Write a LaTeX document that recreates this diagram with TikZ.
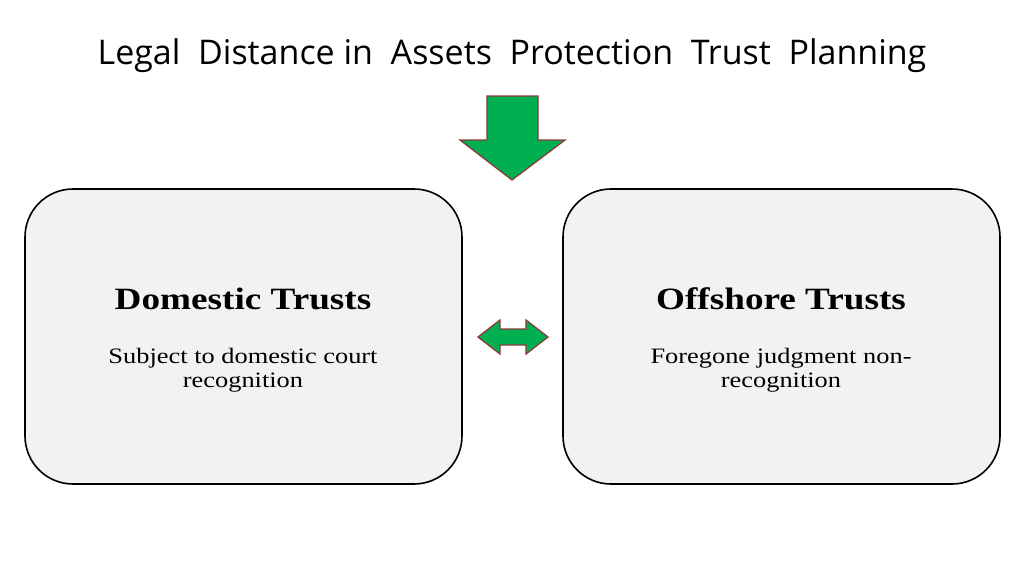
\documentclass[tikz,border=0pt]{standalone}
\usepackage{fontspec}
\setmainfont{Liberation Serif}[FakeStretch=1.2]
\newfontfamily\titlefont{Open Sans}
\begin{document}
\begin{tikzpicture}[x=1pt,y=-1pt,
  box/.style={draw=black,line width=1.6pt,fill=boxgray,rounded corners=48pt},
  arr/.style={draw=arrred,line width=1.3pt,fill=arrgreen,line join=miter},
  head/.style={font=\bfseries\fontsize{31}{34}\selectfont},
  body/.style={font=\fontsize{22}{24}\selectfont,align=center}]
\definecolor{boxgray}{HTML}{F2F2F2}
\definecolor{arrgreen}{HTML}{00B050}
\definecolor{arrred}{HTML}{8B3A3A}
\useasboundingbox (0,0) rectangle (1024,576);
\node[font=\titlefont\fontsize{34}{40}\selectfont] (title) at (512,56) {Legal\ \ Distance in\ \ Assets\ \ Protection\ \ Trust\ \ Planning};
\draw[arr] (487,96) -- (538,96) -- (538,140) -- (565,140) -- (512,180) -- (460,140) -- (487,140) -- cycle;
\draw[box] (25,189) rectangle (462,484);
\draw[box] (563,189) rectangle (1000,484);
\node[head] (dt) at (243,299) {Domestic Trusts};
\node[body] (ds) at (243,370) {Subject to domestic court\\recognition};
\node[head] (ot) at (781,299) {Offshore Trusts};
\node[body] (os) at (781,370) {Foregone judgment non-\\recognition};
\draw[arr] (478,337) -- (500,320) -- (500,329) -- (526,329) -- (526,320) -- (548,337) -- (526,354) -- (526,345) -- (500,345) -- (500,354) -- cycle;
\end{tikzpicture}
\end{document}
